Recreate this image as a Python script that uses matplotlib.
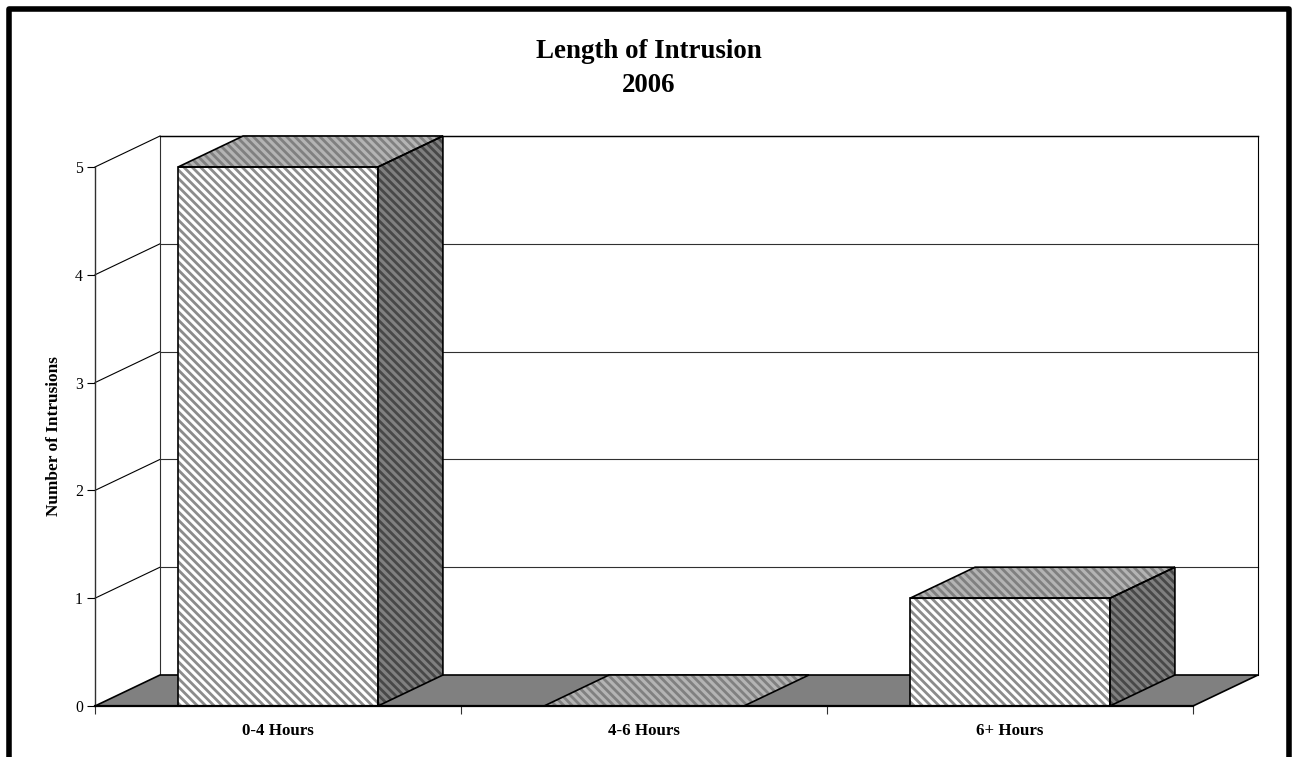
"""Length of Intrusion, pseudo 3D bar chart.
"""
import matplotlib
matplotlib.use('Agg')
import matplotlib.pyplot as plt
from matplotlib.patches import Polygon, Rectangle

categories = ['0-4 Hours', '4-6 Hours', '6+ Hours']
intrusions = [5, 0, 1]
y_ticks = [0, 1, 2, 3, 4, 5]

WIDTH, HEIGHT = 1294, 757
BAR_WIDTH = 0.546
# depth of the fake 3D box, in data units
DEPTH_X = 65 / 366
DEPTH_Y = 31 / 107.8
HATCH = '\\' * 8

plt.rcParams['font.family'] = ['Liberation Serif', 'DejaVu Serif']
plt.rcParams['hatch.linewidth'] = 1.0

fig = plt.figure(figsize=(WIDTH / 200, HEIGHT / 200), dpi=200)
ax = fig.add_axes([95 / WIDTH, (HEIGHT - 706) / HEIGHT, 1098 / WIDTH, 539 / HEIGHT])
n = len(categories)
ax.set_xlim(0, n)
ax.set_ylim(0, y_ticks[-1])

# black frame round the picture, it runs off the bottom edge
fig.add_artist(Rectangle((8.7 / WIDTH, -0.05), (1288.5 - 8.7) / WIDTH, 1.05 - 8.8 / HEIGHT,
                         transform=fig.transFigure, fill=False, edgecolor='black', lw=2.0,
                         joinstyle='round'))

# back wall and left wall
top = y_ticks[-1]
for v in y_ticks[1:]:
    ax.plot([DEPTH_X, n + DEPTH_X], [v + DEPTH_Y, v + DEPTH_Y], color='#303030',
            lw=0.4, clip_on=False, zorder=1)
    ax.plot([0, DEPTH_X], [v, v + DEPTH_Y], color='black', lw=0.4, clip_on=False, zorder=1)
ax.plot([DEPTH_X, DEPTH_X], [DEPTH_Y, top + DEPTH_Y], color='#303030', lw=0.4,
        clip_on=False, zorder=1)
ax.plot([n + DEPTH_X, n + DEPTH_X], [DEPTH_Y, top + DEPTH_Y], color='black', lw=0.4,
        clip_on=False, zorder=1)
ax.plot([DEPTH_X, n + DEPTH_X], [top + DEPTH_Y, top + DEPTH_Y], color='black', lw=0.5,
        clip_on=False, zorder=1)

# floor
ax.add_patch(Polygon([(0, 0), (n, 0), (n + DEPTH_X, DEPTH_Y), (DEPTH_X, DEPTH_Y)],
                     facecolor='#808080', edgecolor='black', lw=0.6, clip_on=False, zorder=2))


def face(points, back, stripe):
    """hatched face, outline goes on separately because hatch uses the edge colour"""
    ax.add_patch(Polygon(points, facecolor=back, edgecolor=stripe, hatch=HATCH, lw=0,
                         clip_on=False, zorder=3))
    ax.add_patch(Polygon(points, fill=False, edgecolor='black', lw=0.6, clip_on=False,
                         joinstyle='miter', zorder=4))


for i, val in enumerate(intrusions):
    x0 = i + 0.5 - BAR_WIDTH / 2
    x1 = i + 0.5 + BAR_WIDTH / 2
    # top
    face([(x0, val), (x1, val), (x1 + DEPTH_X, val + DEPTH_Y), (x0 + DEPTH_X, val + DEPTH_Y)],
         '#b4b4b4', '#808080')
    if val > 0:
        # side
        face([(x1, 0), (x1 + DEPTH_X, DEPTH_Y), (x1 + DEPTH_X, val + DEPTH_Y), (x1, val)],
             '#808080', '#484848')
        # front
        face([(x0, 0), (x1, 0), (x1, val), (x0, val)], 'white', '#8c8c8c')

# axes
ax.patch.set_visible(False)
for side in ['top', 'right']:
    ax.spines[side].set_visible(False)
ax.spines['left'].set_linewidth(0.5)
ax.spines['left'].set_color('#303030')
ax.spines['bottom'].set_linewidth(0.8)
ax.spines['left'].set_zorder(5)
ax.spines['bottom'].set_zorder(5)

ax.set_yticks(y_ticks)
ax.set_xticks(range(n + 1))
ax.set_xticklabels([])
ax.tick_params(axis='y', length=2.9, width=0.4, pad=1.5, labelsize=5.7)
ax.tick_params(axis='x', length=2.9, width=0.4, color='#303030', direction='out')
for i, name in enumerate(categories):
    ax.annotate(name, (i + 0.5, 0), xytext=(0, -9.0), textcoords='offset points', ha='center',
                va='center', fontsize=6.1, fontweight='bold')

fig.text(54.5 / WIDTH, 1 - 436 / HEIGHT, 'Number of Intrusions', rotation=90, ha='center',
         va='center', fontsize=6.2, fontweight='bold')
fig.text(649 / WIDTH, 1 - 58 / HEIGHT, 'Length of Intrusion', ha='center', va='baseline',
         fontsize=9.7, fontweight='bold')
fig.text(649 / WIDTH, 1 - 92 / HEIGHT, '2006', ha='center', va='baseline',
         fontsize=9.7, fontweight='bold')

fig.savefig('out.png', dpi=200)
